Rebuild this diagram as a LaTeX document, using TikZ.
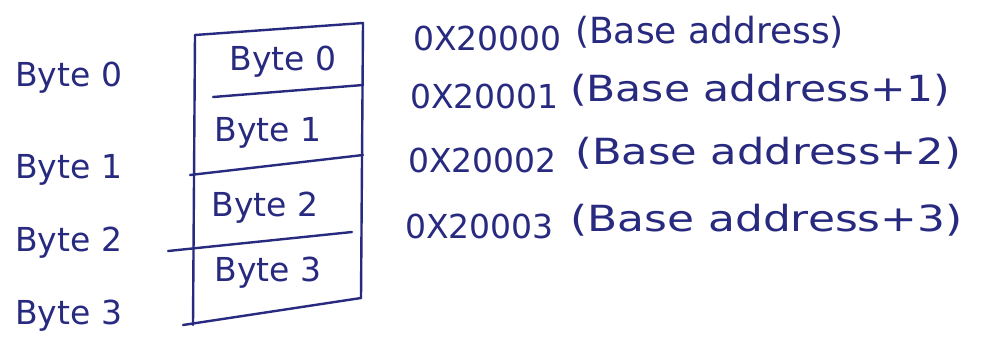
\documentclass[tikz,border=0pt]{standalone}
\usepackage{fontspec}
\setmainfont{DejaVu Sans}
\definecolor{ink}{RGB}{40,42,128}
\tikzset{
  inkline/.style={draw=ink, line width=2.4pt, line cap=round},
  cell/.style={text=ink, font=\fontsize{33}{36}\selectfont, inner sep=0pt},
  side/.style={text=ink, font=\fontsize{33}{36}\selectfont, inner sep=0pt, anchor=west},
  addr/.style={text=ink, font=\fontsize{33}{36}\selectfont, inner sep=0pt, anchor=west},
  note/.style={text=ink, font=\fontsize{36}{40}\selectfont, inner sep=0pt, anchor=west},
}
\newcommand{\wide}[2][1.12]{\scalebox{#1}[1]{#2}}
\begin{document}
\begin{tikzpicture}[x=1pt,y=-1pt]
\useasboundingbox (0,0) rectangle (992,360);
\fill[white] (0,0) rectangle (992,360);
% box corners and row lines
\coordinate (tl) at (195,35);
\coordinate (tr) at (363,23);
\coordinate (bl) at (193,325);
\coordinate (br) at (361,298);
\coordinate (bb) at (183,325);
\coordinate (r1l) at (213,97);  \coordinate (r1r) at (363,85);
\coordinate (r2l) at (190,175); \coordinate (r2r) at (363,155);
\coordinate (r3l) at (168,251); \coordinate (r3r) at (352,232);
\draw[inkline] (tl) -- (tr);
\draw[inkline] (tl) -- (bl);
\draw[inkline] (tr) -- (br);
\draw[inkline] (bb) -- (br);
\draw[inkline] (r1l) -- (r1r);
\draw[inkline] (r2l) -- (r2r);
\draw[inkline] (r3l) -- (r3r);
% cell texts
\node[cell] (c0) at (283,62) {Byte 0};
\node[cell] (c1) at (268,133) {Byte 1};
\node[cell] (c2) at (265,208) {Byte 2};
\node[cell] (c3) at (268,273) {Byte 3};
% left labels
\node[side] (s0) at (15,78) {Byte 0};
\node[side] (s1) at (15,170) {Byte 1};
\node[side] (s2) at (15,243) {Byte 2};
\node[side] (s3) at (15,316) {Byte 3};
% addresses
\node[addr] (a0) at (413,38) {0X20000};
\node[addr] (a1) at (410,96) {0X20001};
\node[addr] (a2) at (408,160) {0X20002};
\node[addr] (a3) at (405,226) {0X20003};
\node[note] (n0) at (575,32) {\wide[1.0]{(Base address)}};
\node[note] (n1) at (570,90) {\wide[1.18]{(Base address+1)}};
\node[note] (n2) at (575,153) {\wide[1.2]{(Base address+2)}};
\node[note] (n3) at (570,220) {\wide[1.22]{(Base address+3)}};
\end{tikzpicture}
\end{document}
